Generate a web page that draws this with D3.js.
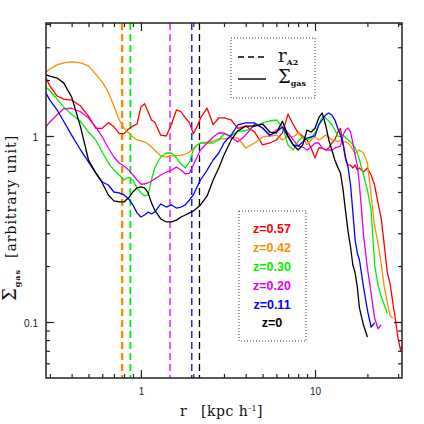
<!DOCTYPE html>
<html>
<head>
<meta charset="utf-8">
<script src="https://cdn.jsdelivr.net/npm/d3@7"></script>
<style>
  body { margin: 0; background: #fff; }
  .tick text { font-family: "Liberation Sans", Arial, sans-serif; font-size: 10px; fill: #222; }
</style>
</head>
<body>
<div id="chart"></div>
<script>
let w = 424;
let h = 424;

// radius grid (kpc/h) shared by all profiles
const radius = [0.285,0.3,0.33,0.36,0.4,0.45,0.5,0.55,0.6,0.65,0.7,0.75,0.8,0.85,0.9,0.95,1.0,1.05,1.1,1.15,1.2,1.3,1.4,1.5,1.6,1.7,1.8,1.9,2.0,2.1,2.2,2.4,2.6,2.8,3.0,3.3,3.6,4.0,4.5,5.0,5.5,6,6.5,7,7.5,8,8.5,9,9.5,10,10.5,11,11.5,12,12.5,13,13.5,14,14.5,15,15.5,16,16.5,17,17.5,18,19,20,21,22,23,24,25,26,27,28,29,30,31,31.6];

// gas surface density profiles, one per redshift
const sigmaZ057 = [2.05,1.86,1.64,1.58,1.56,1.45,1.28,1.10,1.10,1.18,1.12,1.03,1.03,1.09,1.13,1.16,1.43,1.49,1.35,1.22,1.19,1.01,1.00,1.16,1.38,1.35,1.25,1.18,1.03,1.12,1.25,1.41,1.15,1.25,1.25,1.22,1.10,1.13,1.05,0.895,0.917,0.952,1.04,1.31,1.15,1.04,1.00,0.952,0.862,0.762,0.862,0.862,0.841,0.862,0.917,0.952,1.05,1.10,0.895,0.743,0.698,0.698,0.673,0.698,0.656,0.673,0.641,0.673,0.617,0.545,0.437,0.362,0.259,0.186,0.16,0.127,0.1025,0.082,0.0707,0.0745];
const sigmaZ042 = [2.21,2.29,2.41,2.47,2.50,2.47,2.38,2.15,1.95,1.72,1.45,1.22,1.10,1.04,0.988,0.952,0.94,0.928,0.906,0.872,0.841,0.781,0.771,0.781,0.781,0.79,0.80,0.82,0.852,0.895,0.917,0.928,0.94,0.964,0.964,0.976,0.976,0.862,0.917,0.988,1.0,1.012,0.952,1.0,0.988,1.038,0.976,0.895,0.952,0.988,0.952,0.976,1.012,0.988,0.952,0.952,0.928,0.952,0.94,0.928,0.917,0.883,0.841,0.81,0.82,0.841,0.81,0.716,0.482,0.328,0.266,0.205,0.154,0.128,0.108,0.105];
const sigmaZ030 = [1.83,1.75,1.58,1.43,1.31,1.20,1.05,0.952,0.82,0.716,0.656,0.617,0.58,0.60,0.58,0.526,0.494,0.476,0.482,0.58,0.673,0.771,0.81,0.81,0.762,0.707,0.673,0.725,0.841,0.895,0.917,0.917,0.917,0.952,1.025,1.0,1.064,1.064,1.13,1.175,1.204,1.219,1.12,0.895,0.841,0.94,0.988,0.952,0.975,1.038,1.146,1.265,1.25,1.204,1.146,1.077,1.0,0.988,1.012,0.975,0.952,0.928,0.895,0.862,0.81,0.743,0.617,0.513,0.40,0.2025,0.158,0.137,0.1234,0.111];
const sigmaZ020 = [1.12,1.19,1.30,1.40,1.41,1.35,1.25,1.12,0.988,0.862,0.771,0.716,0.69,0.656,0.617,0.58,0.552,0.552,0.559,0.573,0.587,0.617,0.64,0.656,0.68,0.656,0.625,0.632,0.698,0.771,0.841,0.917,0.988,1.038,1.038,0.988,0.928,1.012,1.16,1.104,1.0,1.077,1.118,1.038,0.952,0.883,0.872,0.841,0.872,0.917,0.917,0.862,0.841,0.841,0.841,0.862,0.872,0.883,1.012,1.077,1.104,1.05,0.917,0.79,0.698,0.545,0.294,0.195,0.143,0.105,0.092,0.0964];
const sigmaZ011 = [1.70,1.56,1.38,1.20,1.01,0.841,0.725,0.633,0.566,0.545,0.50,0.494,0.482,0.459,0.426,0.386,0.367,0.376,0.39,0.381,0.39,0.431,0.415,0.426,0.41,0.415,0.426,0.453,0.482,0.532,0.58,0.656,0.743,0.81,0.917,1.012,1.146,1.175,1.175,1.104,1.012,1.05,1.118,0.988,0.895,0.883,0.928,0.975,0.988,1.0,1.146,1.219,1.297,1.33,1.297,1.219,1.104,1.012,0.917,0.762,0.673,0.545,0.39,0.276,0.235,0.2155,0.154,0.116,0.094,0.099];
const sigmaZ000 = [2.13,2.10,2.05,1.93,1.62,1.12,0.743,0.633,0.559,0.482,0.448,0.442,0.442,0.465,0.50,0.526,0.532,0.526,0.494,0.437,0.40,0.358,0.345,0.345,0.353,0.367,0.376,0.386,0.395,0.41,0.426,0.476,0.58,0.673,0.79,0.952,1.064,1.13,1.13,1.16,1.05,1.04,1.20,1.0,0.895,0.841,0.895,1.077,1.05,1.10,1.25,1.33,1.15,0.952,0.841,0.743,0.68,0.633,0.513,0.39,0.305,0.253,0.2025,0.184,0.154,0.119,0.096,0.083];

const zLabels = ["z=0.57", "z=0.42", "z=0.30", "z=0.20", "z=0.11", "z=0"];
const zColors = ["#ff0000", "#ff8c00", "#00ee00", "#e600e6", "#0000ff", "#000000"];

// r_A2 positions (dashed lines), z=0.42 .. z=0
const rA2 = [0.78, 0.87, 1.47, 1.96, 2.17];
const rA2Colors = ["#ff8c00", "#00ee00", "#e600e6", "#0000ff", "#000000"];
const rA2Widths = [2.4, 1.8, 1.3, 1.3, 1.3];

const xMajor = [1, 10];
const xMinor = [0.3,0.4,0.5,0.6,0.7,0.8,0.9,2,3,4,5,6,7,8,9,20,30];
const yMajor = [0.1, 1];
const yMinor = [0.06,0.07,0.08,0.09,0.2,0.3,0.4,0.5,0.6,0.7,0.8,0.9,2,3,4];

const profiles = [sigmaZ057, sigmaZ042, sigmaZ030, sigmaZ020, sigmaZ011, sigmaZ000];

let viz = d3.select("#chart")
  .append("svg")
  .attr("width", w)
  .attr("height", h)
  .style("background-color", "white");

let pLeft = 46, pRight = 402, pTop = 23, pBottom = 378;

let xScale = d3.scaleLog().domain([0.285, 31.6]).range([pLeft, pRight]);
let yScale = d3.scaleLog().domain([0.05, 4.05]).range([pBottom, pTop]);

// clip so curves stay inside the frame
viz.append("clipPath").attr("id", "plotclip")
  .append("rect").attr("x", pLeft).attr("y", pTop)
  .attr("width", pRight - pLeft).attr("height", pBottom - pTop);

let plot = viz.append("g").attr("clip-path", "url(#plotclip)");

// dashed r_A2 lines
plot.selectAll(".ra2").data(rA2).enter()
  .append("line")
  .attr("class", "ra2")
  .attr("x1", d => xScale(d))
  .attr("x2", d => xScale(d))
  .attr("y1", pTop)
  .attr("y2", pBottom)
  .attr("stroke", (d, i) => rA2Colors[i])
  .attr("stroke-width", (d, i) => rA2Widths[i])
  .attr("stroke-dasharray", "7,4");

// profiles
let line = d3.line()
  .x((d, i) => xScale(radius[i]))
  .y(d => yScale(d));

plot.selectAll(".profile").data(profiles).enter()
  .append("path")
  .attr("class", "profile")
  .attr("d", d => line(d))
  .attr("fill", "none")
  .attr("stroke", (d, i) => zColors[i])
  .attr("stroke-width", 1.3)
  .attr("stroke-linejoin", "round");

// axes: ticks point inward on all four sides
function styleAxis(g) {
  g.select(".domain").remove();
  g.selectAll(".tick line").attr("stroke", "#222").attr("stroke-width", 1.2);
}

viz.append("g").attr("transform", `translate(0,${pBottom})`)
  .call(d3.axisBottom(xScale).tickValues(xMajor).tickSize(-8).tickPadding(10).tickFormat(d3.format("")))
  .call(styleAxis)
  .selectAll(".tick text").attr("dy", "0.71em");
viz.append("g").attr("transform", `translate(0,${pBottom})`)
  .call(d3.axisBottom(xScale).tickValues(xMinor).tickSize(-4).tickFormat(""))
  .call(styleAxis);
viz.append("g").attr("transform", `translate(0,${pTop})`)
  .call(d3.axisTop(xScale).tickValues(xMajor).tickSize(-8).tickFormat(""))
  .call(styleAxis);
viz.append("g").attr("transform", `translate(0,${pTop})`)
  .call(d3.axisTop(xScale).tickValues(xMinor).tickSize(-4).tickFormat(""))
  .call(styleAxis);

viz.append("g").attr("transform", `translate(${pLeft},0)`)
  .call(d3.axisLeft(yScale).tickValues(yMajor).tickSize(-8).tickPadding(8).tickFormat(d3.format("")))
  .call(styleAxis)
  .selectAll(".tick text").attr("dy", "0.45em");
viz.append("g").attr("transform", `translate(${pLeft},0)`)
  .call(d3.axisLeft(yScale).tickValues(yMinor).tickSize(-4).tickFormat(""))
  .call(styleAxis);
viz.append("g").attr("transform", `translate(${pRight},0)`)
  .call(d3.axisRight(yScale).tickValues(yMajor).tickSize(-8).tickFormat(""))
  .call(styleAxis);
viz.append("g").attr("transform", `translate(${pRight},0)`)
  .call(d3.axisRight(yScale).tickValues(yMinor).tickSize(-4).tickFormat(""))
  .call(styleAxis);

// frame
viz.append("rect")
  .attr("x", pLeft).attr("y", pTop)
  .attr("width", pRight - pLeft).attr("height", pBottom - pTop)
  .attr("fill", "none")
  .attr("stroke", "#222")
  .attr("stroke-width", 1.5);

// axis titles
let serif = "'DejaVu Serif', 'Liberation Serif', serif";

let xt = viz.append("text")
  .attr("x", 180).attr("y", 416)
  .style("font-family", serif).style("font-size", "14px")
  .style("letter-spacing", "0.5px").attr("fill", "#111");
xt.append("tspan").text("r");
xt.append("tspan").attr("x", 201).text("[kpc h");
xt.append("tspan").attr("dy", -5).style("font-size", "8px").text("-1");
xt.append("tspan").attr("dy", 5).text("]");

// y title starts at the bottom (Σ near y=300) and runs upward
let yt = viz.append("text")
  .attr("transform", "translate(16,301) rotate(-90)")
  .attr("text-anchor", "start")
  .style("font-family", serif).style("font-size", "14px")
  .style("letter-spacing", "1px").attr("fill", "#111");
yt.append("tspan").style("font-size", "18px").text("Σ");
yt.append("tspan").attr("dy", 4).style("font-size", "8px").style("font-weight", "bold").text("gas");
yt.append("tspan").attr("dy", -4).attr("xml:space", "preserve").text("  [arbitrary unit]");

// legend: line styles
viz.append("rect")
  .attr("x", 231).attr("y", 38).attr("width", 84).attr("height", 60)
  .attr("fill", "none").attr("stroke", "#333").attr("stroke-width", 1)
  .attr("stroke-dasharray", "1,2");

viz.append("line").attr("x1", 238).attr("x2", 265).attr("y1", 57).attr("y2", 57)
  .attr("stroke", "#000").attr("stroke-width", 1.4).attr("stroke-dasharray", "6,4");
viz.append("line").attr("x1", 238).attr("x2", 266).attr("y1", 79).attr("y2", 79)
  .attr("stroke", "#000").attr("stroke-width", 1.4);

let l1 = viz.append("text").attr("x", 278).attr("y", 62)
  .style("font-family", serif).style("font-size", "18px").attr("fill", "#111");
l1.append("tspan").text("r");
l1.append("tspan").attr("dy", 3).style("font-size", "8px").style("font-weight", "bold").text("A2");

let l2 = viz.append("text").attr("x", 278).attr("y", 83)
  .style("font-family", serif).style("font-size", "18px").attr("fill", "#111");
l2.append("tspan").text("Σ");
l2.append("tspan").attr("dy", 3).style("font-size", "8px").style("font-weight", "bold").text("gas");

// legend: redshifts
viz.append("rect")
  .attr("x", 239).attr("y", 211).attr("width", 67).attr("height", 130)
  .attr("fill", "none").attr("stroke", "#333").attr("stroke-width", 1)
  .attr("stroke-dasharray", "1,2");

viz.selectAll(".zlab").data(zLabels).enter()
  .append("text")
  .attr("class", "zlab")
  .attr("x", 272)
  .attr("y", (d, i) => 229 + i * 18.8)
  .attr("dy", "0.35em")
  .attr("text-anchor", "middle")
  .style("font-family", "'Liberation Sans', Arial, sans-serif")
  .style("font-size", "12.5px")
  .style("font-weight", "bold")
  .attr("fill", (d, i) => zColors[i])
  .text(d => d);
</script>
</body>
</html>
